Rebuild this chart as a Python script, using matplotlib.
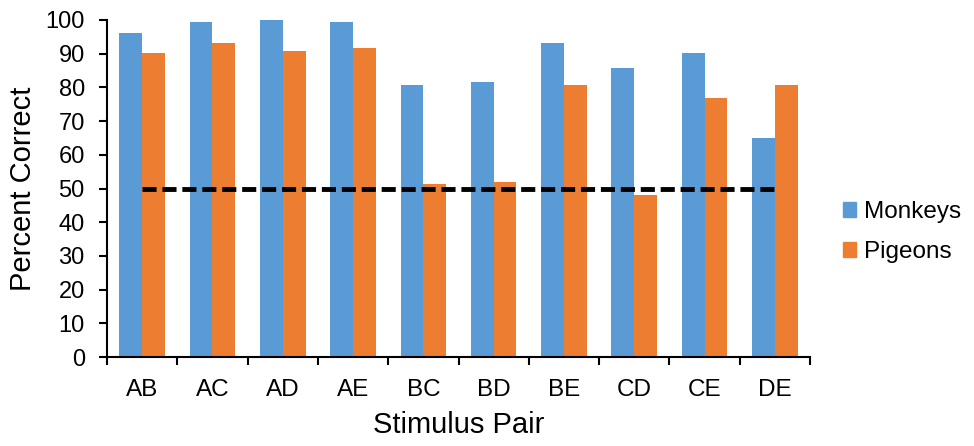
import matplotlib
matplotlib.use("Agg")
import matplotlib.pyplot as plt
import numpy as np
from matplotlib.patches import Patch

categories = ["AB", "AC", "AD", "AE", "BC", "BD", "BE", "CD", "CE", "DE"]
monkeys = [96.0, 99.3, 100.0, 99.3, 80.8, 81.5, 93.1, 85.8, 90.1, 65.1]
pigeons = [90.1, 93.1, 90.9, 91.6, 51.2, 52.0, 80.8, 48.0, 77.0, 80.8]
chance = 50

blue = "#5B9BD5"
orange = "#ED7D31"

plt.rcParams['font.family'] = ['Liberation Sans', 'DejaVu Sans']

fig = plt.figure(figsize=(9.74, 4.46), dpi=100)
ax = fig.add_axes([107/974, (446-357)/446, 703/974, 337/446])

x = np.arange(len(categories))
w = 0.325
ax.bar(x - w/2, monkeys, w, color=blue, label="Monkeys")
ax.bar(x + w/2, pigeons, w, color=orange, label="Pigeons")
line, = ax.plot([x[0], x[-1]], [chance, chance], color="black", lw=3.5,
                linestyle=(0, (2.9, 1.2)))
line.set_dash_capstyle('butt')

ax.set_xlim(-0.5, len(categories) - 0.5)
ax.set_ylim(0, 100)
ax.set_yticks(np.arange(0, 101, 10))
ax.set_xticks(np.arange(-0.5, len(categories), 1.0))
ax.set_xticklabels([])
ax.set_xticks(x, minor=True)
ax.set_xticklabels(categories, minor=True)
ax.tick_params(axis='x', which='minor', length=0, labelsize=17.5, pad=16)
ax.tick_params(axis='x', which='major', length=6, width=1.5, direction='out')
ax.tick_params(axis='y', length=6, width=1.5, labelsize=17, pad=10)

for s in ['top', 'right']:
    ax.spines[s].set_visible(False)
for s in ['left', 'bottom']:
    ax.spines[s].set_linewidth(1.5)

ax.set_xlabel("Stimulus Pair", fontsize=21, labelpad=7)
ax.set_ylabel("Percent Correct", fontsize=21, labelpad=6)

handles = [Patch(color=blue), Patch(color=orange)]
fig.legend(handles, ["Monkeys", "Pigeons"], loc='center left',
           bbox_to_anchor=(821/974, 1 - 232/446), frameon=False,
           fontsize=17.5, handlelength=0.55, handleheight=0.55,
           handletextpad=0.3, labelspacing=0.75)

fig.savefig("out.png", dpi=100)
